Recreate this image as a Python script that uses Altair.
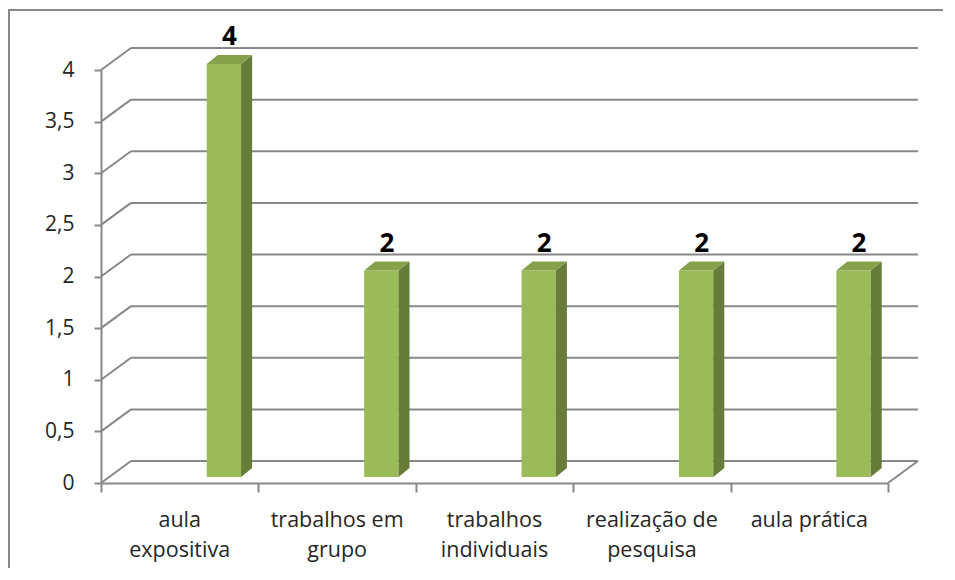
import altair as alt
import pandas as pd

# ---- data ----
categories = ["aula expositiva", "trabalhos em grupo", "trabalhos individuais",
              "realização de pesquisa", "aula prática"]
category_lines = ["aula\nexpositiva", "trabalhos em\ngrupo", "trabalhos\nindividuais",
                  "realização de\npesquisa", "aula prática"]
values = [4, 2, 2, 2, 2]
y_ticks = [0, 0.5, 1, 1.5, 2, 2.5, 3, 3.5, 4]
x_ticks = [0, 1, 2, 3, 4, 5]

# ---- layout constants (data units / pixels) ----
W, H = 787, 413
BAR_START = 0.672   # bar front-face left edge inside its slot
BAR_W = 0.218       # bar front-face width
DEPTH_X = 0.07      # bar depth in x units
DEPTH_Y = 0.087     # bar depth in y units
BASE = 0.058        # bars stand slightly behind the front floor edge
WALL_DX, WALL_DY = 30, -22  # back-wall offset in pixels

GRID = "#888888"
FRONT = "#9BBB59"
SIDE = "#677C39"
TOP = "#85A14A"
FONT = "Open Sans"

xs = alt.Scale(domain=[0, 5], nice=False, zero=False)
ys = alt.Scale(domain=[0, 4], nice=False)

n = len(categories)
grid_df = pd.DataFrame({"v": y_ticks, "x0": 0, "x1": 5})
floor_df = pd.DataFrame({"x": [5], "y": [0]})

front_df = pd.DataFrame({
    "cat": categories,
    "x0": [i + BAR_START for i in range(n)],
    "x1": [i + BAR_START + BAR_W for i in range(n)],
    "y0": [BASE] * n,
    "y1": [v + BASE for v in values],
})

side_rows, top_rows = [], []
for i, (c, v) in enumerate(zip(categories, values)):
    xr = i + BAR_START + BAR_W
    side_rows.append({"cat": c, "x": xr, "lo": BASE, "hi": v + BASE})
    side_rows.append({"cat": c, "x": xr + DEPTH_X, "lo": BASE + DEPTH_Y, "hi": v + BASE + DEPTH_Y})
    top_rows.append({"cat": c, "y": v + BASE, "xl": i + BAR_START, "xr": xr})
    top_rows.append({"cat": c, "y": v + BASE + DEPTH_Y, "xl": i + BAR_START + DEPTH_X, "xr": xr + DEPTH_X})
side_df = pd.DataFrame(side_rows)
top_df = pd.DataFrame(top_rows)

lab_df = pd.DataFrame({
    "cat": categories,
    "x": [i + BAR_START + (BAR_W + DEPTH_X) / 2 for i in range(n)],
    "y": [v + BASE + DEPTH_Y for v in values],
    "t": [str(v) for v in values],
})
cat_df = pd.DataFrame({"x": [i + 0.5 for i in range(n)], "t": category_lines})

# back-wall gridlines (carries the axes)
back = alt.Chart(grid_df).mark_rule(
    color=GRID, strokeWidth=2, xOffset=WALL_DX, x2Offset=WALL_DX, yOffset=WALL_DY
).encode(
    x=alt.X("x0:Q", scale=xs, axis=alt.Axis(values=x_ticks, labels=False, title=None, grid=False,
                                              domainColor=GRID, domainWidth=2, tickColor=GRID,
                                              tickWidth=2, tickSize=9)),
    x2="x1:Q",
    y=alt.Y("v:Q", scale=ys, axis=alt.Axis(values=y_ticks, title=None, grid=False,
                                            labelExpr="replace(format(datum.value, ''), '.', ',')",
                                            labelFont=FONT, labelFontSize=21, labelColor="#262626",
                                            labelPadding=20, domainColor=GRID, domainWidth=2,
                                            tickColor=GRID, tickWidth=2, tickSize=7)),
)

# left wall diagonals
diag = alt.Chart(grid_df).mark_rule(
    color=GRID, strokeWidth=2, x2Offset=WALL_DX, y2Offset=WALL_DY
).encode(
    x=alt.X("x0:Q"), x2="x0:Q",
    y=alt.Y("v:Q"), y2="v:Q",
)

# floor right edge
floor = alt.Chart(floor_df).mark_rule(
    color=GRID, strokeWidth=2, x2Offset=WALL_DX, y2Offset=WALL_DY
).encode(
    x=alt.X("x:Q"), x2="x:Q",
    y=alt.Y("y:Q"), y2="y:Q",
)

front = alt.Chart(front_df).mark_bar(color=FRONT, strokeWidth=0).encode(
    x=alt.X("x0:Q"), x2="x1:Q",
    y=alt.Y("y0:Q"), y2="y1:Q",
)

side = alt.Chart(side_df).mark_area(color=SIDE, orient="vertical", opacity=1).encode(
    x=alt.X("x:Q"),
    y=alt.Y("hi:Q"), y2="lo:Q",
    detail="cat:N",
)

top = alt.Chart(top_df).mark_area(color=TOP, orient="horizontal", opacity=1).encode(
    y=alt.Y("y:Q"),
    x=alt.X("xl:Q"), x2="xr:Q",
    detail="cat:N",
)

labels = alt.Chart(lab_df).mark_text(
    font=FONT, fontSize=26, fontWeight="bold", color="#000000", baseline="alphabetic", dy=-10
).encode(
    x=alt.X("x:Q"),
    y=alt.Y("y:Q"),
    text="t:N",
)

cats = alt.Chart(cat_df).mark_text(
    font=FONT, fontSize=21.5, color="#262626", baseline="alphabetic", lineBreak="\n", lineHeight=30
).encode(
    x=alt.X("x:Q"),
    y=alt.value(H + 44),
    text="t:N",
)

border = alt.Chart(pd.DataFrame({"a": [0]})).mark_rect(
    fill=None, stroke=GRID, strokeWidth=2
).encode(
    x=alt.value(-92), x2=alt.value(W + 200), y=alt.value(-60), y2=alt.value(H + 200)
)

chart = alt.layer(back, diag, floor, front, side, top, labels, cats, border).properties(
    width=W, height=H,
    autosize=alt.AutoSizeParams(type="none"),
    padding={"left": 93, "top": 62, "right": 55, "bottom": 85},
).configure_view(stroke=None)

chart.save("out.html", embed_options={"renderer": "svg", "actions": False})
